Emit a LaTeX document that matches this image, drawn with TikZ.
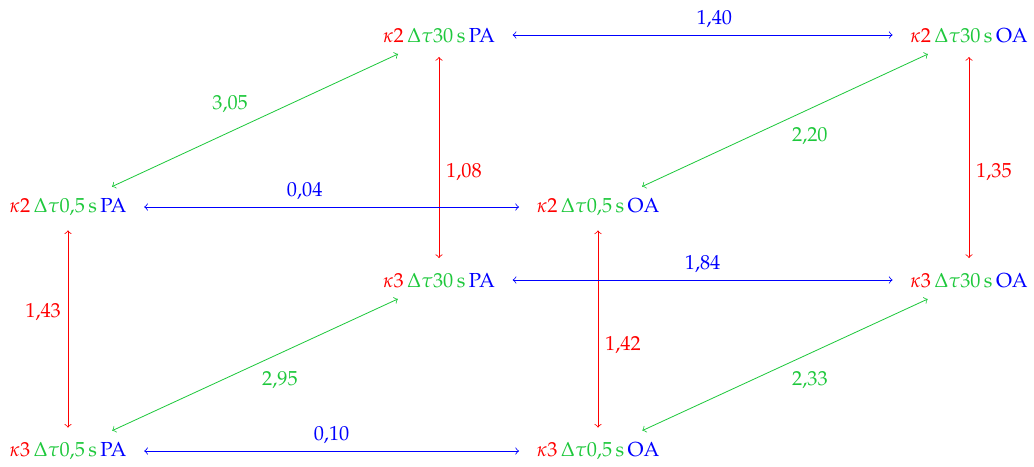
\documentclass[tikz,border=0pt]{standalone}
\usepackage[T1]{fontenc}
\usepackage{mathpazo}
\usepackage{xcolor}
\definecolor{grn}{RGB}{30,200,60}
\newcommand{\stlab}[3]{$\textcolor{red}{\kappa#1}\,\textcolor{grn}{\Delta\tau#2\,\mathrm{s}}\,\textcolor{blue}{\mathrm{#3}}$}
\tikzset{
  cfg/.style={inner xsep=6pt, inner ysep=4.5pt},
  lbl/.style={inner sep=3.3pt},
  arrc/.style={<->, shorten <=2.5pt, shorten >=2.5pt},
  harr/.style={arrc, draw=blue},
  varr/.style={arrc, draw=red},
  darr/.style={arrc, draw=grn},
}

\begin{document}
\begin{tikzpicture}[x=0.0173cm, y=-0.0173cm]
  \useasboundingbox (0,0) rectangle (1034,466);
  % back face (30 s)
  \node[cfg] (k2Lpa) at (439,35)  {\stlab{2}{30}{PA}};
  \node[cfg] (k2Loa) at (969,35)  {\stlab{2}{30}{OA}};
  \node[cfg] (k3Lpa) at (439,280) {\stlab{3}{30}{PA}};
  \node[cfg] (k3Loa) at (969,280) {\stlab{3}{30}{OA}};
  % front face (0,5 s)
  \node[cfg] (k2Spa) at (68,207)  {\stlab{2}{0{,}5}{PA}};
  \node[cfg] (k2Soa) at (598,207) {\stlab{2}{0{,}5}{OA}};
  \node[cfg] (k3Spa) at (68,451)  {\stlab{3}{0{,}5}{PA}};
  \node[cfg] (k3Soa) at (598,451) {\stlab{3}{0{,}5}{OA}};

  % kappa
  \draw[varr] (k2Lpa) -- node[lbl, right, red, pos=0.57] {1,08} (k3Lpa);
  \draw[varr] (k2Loa) -- node[lbl, right, red, pos=0.57] {1,35} (k3Loa);
  \draw[varr] (k2Spa) -- node[lbl, left, red, pos=0.42] {1,43} (k3Spa);
  \draw[varr] (k2Soa) -- node[lbl, right, red, pos=0.58] {1,42} (k3Soa);

  % PA / OA
  \draw[harr] (k2Lpa) -- node[lbl, above, blue, pos=0.53] {1,40} (k2Loa);
  \draw[harr] (k2Spa) -- node[lbl, above, blue, pos=0.43] {0,04} (k2Soa);
  \draw[harr] (k3Lpa) -- node[lbl, above, blue] {1,84} (k3Loa);
  \draw[harr] (k3Spa) -- node[lbl, above, blue] {0,10} (k3Soa);

  % delta tau
  \draw[darr] (k2Lpa) -- node[lbl, above left, grn] {3,05} (k2Spa);
  \draw[darr] (k2Loa) -- node[lbl, below right, grn] {2,20} (k2Soa);
  \draw[darr] (k3Lpa) -- node[lbl, below right, grn] {2,95} (k3Spa);
  \draw[darr] (k3Loa) -- node[lbl, below right, grn] {2,33} (k3Soa);
\end{tikzpicture}
\end{document}
